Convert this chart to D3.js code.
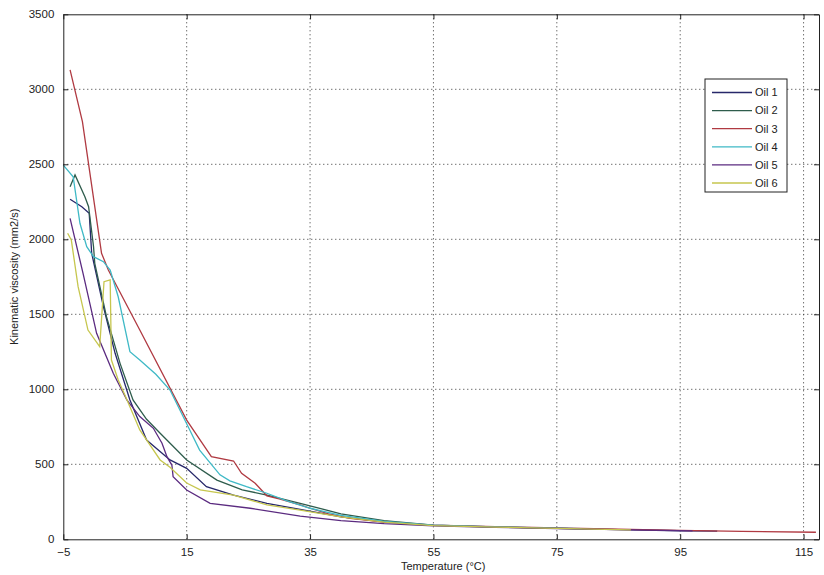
<!DOCTYPE html>
<html>
<head>
<meta charset="utf-8">
<script src="https://cdn.jsdelivr.net/npm/d3@7/dist/d3.min.js"></script>
<style>
  body { margin: 0; background: #fff; }
  svg { display: block; font-family: "Liberation Sans", Arial, sans-serif; }
</style>
</head>
<body>
<div id="grafico"></div>
<script>
// DATOS: temperatura (°C) y viscosidad cinemática (mm2/s) de cada aceite
var oilNames = ["Oil 1", "Oil 2", "Oil 3", "Oil 4", "Oil 5", "Oil 6"];
var oilColors = ["#27286a", "#2e5c4c", "#b03a42", "#3fb9c6", "#5b2b80", "#c6c64e"];

var temp1 = [-3.9, -2, -0.8, -0.4, 1.5, 3.4, 5.8, 8.5, 12.3, 15, 18.2, 22.6, 28, 33.4, 40, 47, 55, 65, 75, 85, 95, 101];
var visc1 = [2267, 2217, 2173, 1907, 1551, 1240, 929, 662, 529, 473, 351, 295, 240, 200, 150, 116, 93, 81, 73, 65, 57, 54];

var temp2 = [-3.9, -3.1, -1.5, -0.9, -0.1, 0.1, 2, 4.2, 6.3, 8.5, 10.7, 15, 19.9, 24, 28, 33.4, 40, 47, 55, 65, 75, 81];
var visc2 = [2351, 2429, 2284, 2217, 1951, 1840, 1484, 1173, 929, 800, 707, 529, 395, 330, 295, 240, 170, 125, 95, 83, 73, 69];

var temp3 = [-3.9, -1.9, 1.2, 2.3, 7.4, 15, 19, 22.6, 23.9, 26.1, 28, 30, 33.4, 35, 38, 41.5, 47, 55, 65, 75, 85, 95, 105, 117];
var visc3 = [3129, 2784, 1907, 1795, 1395, 795, 551, 522, 440, 373, 290, 270, 229, 207, 170, 140, 115, 94, 84, 76, 68, 60, 53, 47];

var temp4 = [-5, -3.4, -2.3, -1.2, -0.1, 1.5, 2.6, 3.9, 5.8, 7.4, 10, 12.3, 13.9, 15.5, 17.1, 19, 20.4, 22, 24.7, 28, 31, 35, 40, 47, 55, 65, 75, 79];
var visc4 = [2495, 2417, 2107, 1951, 1884, 1851, 1795, 1617, 1251, 1195, 1100, 995, 862, 729, 595, 500, 430, 390, 351, 307, 260, 207, 160, 120, 95, 83, 74, 71];

var temp5 = [-3.9, -1.8, 0.4, 3.1, 5.3, 7.4, 9.6, 11, 11.8, 12.6, 12.8, 15, 18.8, 25.3, 33.4, 40, 47, 55, 65, 75, 85, 97];
var visc5 = [2140, 1773, 1373, 1107, 929, 818, 740, 640, 551, 495, 417, 329, 240, 207, 155, 125, 104, 89, 80, 72, 64, 56];

var temp6 = [-4.3, -3.7, -2.6, -1, 0.9, 1.6, 2.6, 2.8, 3.9, 5, 7.4, 10.7, 12.3, 15, 17.2, 22.6, 28, 33.4, 40, 47, 55, 65, 75, 87];
var visc6 = [2040, 1995, 1684, 1395, 1284, 1717, 1729, 1195, 1062, 960, 729, 529, 480, 375, 329, 295, 229, 195, 150, 115, 91, 81, 73, 63];

var xTicks = [-5, 15, 35, 55, 75, 95, 115];
var yTicks = [0, 500, 1000, 1500, 2000, 2500, 3000, 3500];

var temps = [temp1, temp2, temp3, temp4, temp5, temp6];
var viscs = [visc1, visc2, visc3, visc4, visc5, visc6];

// Tabla de series construida a partir de los arreglos
var series = oilNames.map(function (name, i) {
    return {
        name: name,
        color: oilColors[i],
        points: temps[i].map(function (t, j) { return { t: t, v: viscs[i][j] }; })
    };
});

var width = 824, height = 575;
var margin = { top: 14.3, right: 5, bottom: 35.7, left: 63.3 };
var plotW = width - margin.left - margin.right;
var plotH = height - margin.top - margin.bottom;

var svg = d3.select("#grafico")
    .append("svg")
    .attr("width", width)
    .attr("height", height);

var g = svg.append("g")
    .attr("transform", "translate(" + margin.left + "," + margin.top + ")");

var x = d3.scaleLinear().domain([-5, 117.5]).range([0, plotW]);
var y = d3.scaleLinear().domain([0, 3500]).range([plotH, 0]);

// Rejilla punteada estilo MATLAB
g.selectAll(".gridx")
    .data(xTicks.slice(1))
    .enter()
    .append("line")
    .attr("x1", d => x(d)).attr("x2", d => x(d))
    .attr("y1", 0).attr("y2", plotH)
    .attr("stroke", "#333")
    .attr("stroke-width", 1)
    .attr("stroke-dasharray", "1,3");

g.selectAll(".gridy")
    .data(yTicks.slice(1, -1))
    .enter()
    .append("line")
    .attr("x1", 0).attr("x2", plotW)
    .attr("y1", d => y(d)).attr("y2", d => y(d))
    .attr("stroke", "#333")
    .attr("stroke-width", 1)
    .attr("stroke-dasharray", "1,3");

// Curvas de los aceites
var line = d3.line()
    .x(d => x(d.t))
    .y(d => y(d.v));

g.selectAll(".oil")
    .data(series)
    .enter()
    .append("path")
    .attr("class", "oil")
    .attr("d", d => line(d.points))
    .attr("fill", "none")
    .attr("stroke", d => d.color)
    .attr("stroke-width", 1.3);

// Ejes con marcas hacia dentro en los cuatro lados
var axisStyle = function (sel) {
    sel.select(".domain").attr("stroke", "#222");
    sel.selectAll(".tick line").attr("stroke", "#222");
    sel.selectAll(".tick text")
        .attr("fill", "#222")
        .style("font-size", "11.5px")
        .style("font-family", "'Liberation Sans', Arial, sans-serif");
};

g.append("g")
    .attr("transform", "translate(0," + plotH + ")")
    .call(d3.axisBottom(x).tickValues(xTicks).tickFormat(d3.format("d")).tickSizeInner(-5).tickSizeOuter(0).tickPadding(9))
    .call(axisStyle);

g.append("g")
    .call(d3.axisTop(x).tickValues(xTicks).tickSizeInner(-5).tickSizeOuter(0).tickFormat(""))
    .call(axisStyle);

g.append("g")
    .call(d3.axisLeft(y).tickValues(yTicks).tickFormat(d3.format("d")).tickSizeInner(-5).tickSizeOuter(0).tickPadding(9))
    .call(axisStyle);

g.append("g")
    .attr("transform", "translate(" + plotW + ",0)")
    .call(d3.axisRight(y).tickValues(yTicks).tickSizeInner(-5).tickSizeOuter(0).tickFormat(""))
    .call(axisStyle);

// Etiquetas de los ejes
svg.append("text")
    .attr("x", margin.left + plotW / 2 + 2)
    .attr("y", 570)
    .attr("text-anchor", "middle")
    .style("font-size", "11px")
    .attr("fill", "#222")
    .text("Temperature (°C)");

svg.append("text")
    .attr("transform", "translate(18," + (margin.top + plotH / 2) + ") rotate(-90)")
    .attr("text-anchor", "middle")
    .style("font-size", "11px")
    .attr("fill", "#222")
    .text("Kinematic viscosity (mm2/s)");

// Leyenda
var leg = svg.append("g").attr("transform", "translate(705,79)");

leg.append("rect")
    .attr("width", 82)
    .attr("height", 113)
    .attr("fill", "#fff")
    .attr("stroke", "#222");

var items = leg.selectAll(".legend")
    .data(series)
    .enter()
    .append("g")
    .attr("class", "legend")
    .attr("transform", function (d, i) { return "translate(0," + (13.5 + i * 18.1) + ")"; });

items.append("line")
    .attr("x1", 7).attr("x2", 47)
    .attr("stroke", d => d.color)
    .attr("stroke-width", 1.3);

items.append("text")
    .attr("x", 50)
    .attr("dy", "0.35em")
    .style("font-size", "11px")
    .attr("fill", "#222")
    .text(d => d.name);
</script>
</body>
</html>
